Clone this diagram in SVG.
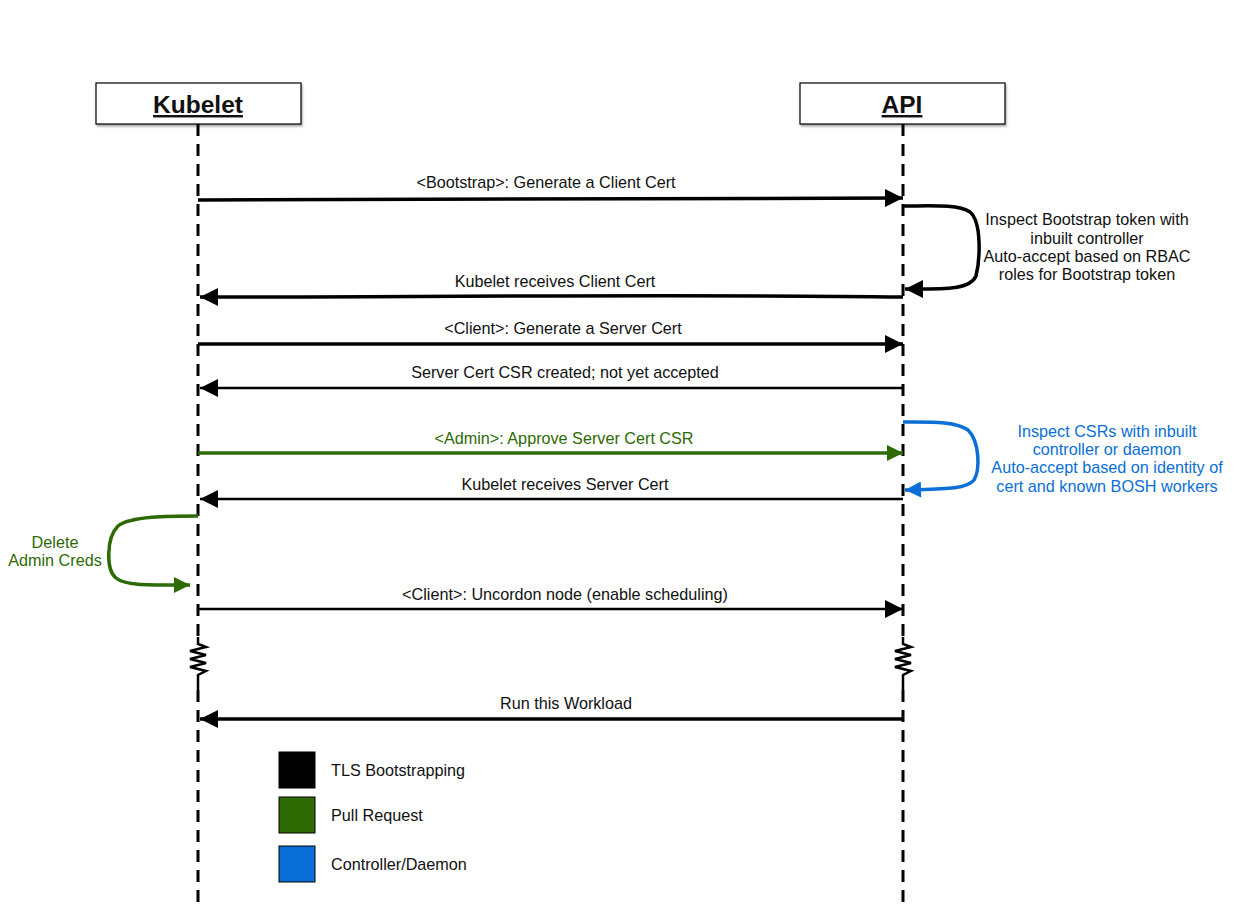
<svg xmlns="http://www.w3.org/2000/svg" width="1241" height="912" viewBox="0 0 1241 912">
<defs>
<style>
text{font-family:"Liberation Sans",Arial,sans-serif;font-size:16.2px;fill:#111}
.title{font-size:24.5px;font-weight:bold;text-decoration:underline}
.lbl{text-anchor:middle}
.g{fill:#2d6a04}
.b{fill:#0a6fd6}
.life{stroke:#000;stroke-width:3;stroke-dasharray:12 8;fill:none}
.box{fill:#fff;stroke:#000;stroke-width:1.2}
.m{fill:none;stroke-width:3.5;stroke-linecap:butt}
.thin{stroke-width:2.5}
</style>
<marker id="ak" viewBox="0 0 10 10" refX="10" refY="5" markerWidth="27" markerHeight="18" markerUnits="userSpaceOnUse" orient="auto"><path d="M0,0 L10,5 L0,10 z" fill="#000"/></marker>
<marker id="ag" viewBox="0 0 10 10" refX="10" refY="5" markerWidth="24" markerHeight="16" markerUnits="userSpaceOnUse" orient="auto"><path d="M0,0 L10,5 L0,10 z" fill="#2d6a04"/></marker>
<marker id="ab" viewBox="0 0 10 10" refX="10" refY="5" markerWidth="24" markerHeight="16" markerUnits="userSpaceOnUse" orient="auto"><path d="M0,0 L10,5 L0,10 z" fill="#0a6fd6"/></marker>
<filter id="sh" x="-10%" y="-10%" width="130%" height="140%"><feDropShadow dx="1" dy="2" stdDeviation="1.2" flood-opacity="0.35"/></filter>
</defs>
<rect width="1241" height="912" fill="#fff"/>
<g id="kubelet">
<path class="life" d="M198,124 V637 M198,690 V910"/>
<path d="M198,637 V644 L206,647 L190,651 L206,655 L190,659 L206,663 L190,667 L206,671 L198,675 V690" fill="none" stroke="#000" stroke-width="2.5"/>
<rect class="box" x="96" y="83" width="205" height="41" filter="url(#sh)"/>
<text class="title lbl" x="198" y="113">Kubelet</text>
</g>
<g id="api">
<path class="life" d="M903,124 V637 M903,690 V910"/>
<path d="M903,637 V644 L911,647 L895,651 L911,655 L895,659 L911,663 L895,667 L911,671 L903,675 V690" fill="none" stroke="#000" stroke-width="2.5"/>
<rect class="box" x="800" y="83" width="205" height="41" filter="url(#sh)"/>
<text class="title lbl" x="902" y="113">API</text>
</g>
<g id="connectors">
<path class="m" stroke="#000" d="M198,200 L903,198" marker-end="url(#ak)"/>
<text class="lbl" x="546" y="188">&lt;Bootstrap&gt;: Generate a Client Cert</text>
<path class="m" stroke="#000" d="M903,206 C930,206 958,204 970,212 C982,222 980,260 976,276 C970,290 945,289 905,289" marker-end="url(#ak)"/>
<path class="m" stroke="#000" d="M903,297 C700,294 400,297 200,297" marker-end="url(#ak)"/>
<text class="lbl" x="555" y="287">Kubelet receives Client Cert</text>
<path class="m" stroke="#000" d="M198,344 L903,344" marker-end="url(#ak)"/>
<text class="lbl" x="563" y="334">&lt;Client&gt;: Generate a Server Cert</text>
<path class="m thin" stroke="#000" d="M903,388 L200,388" marker-end="url(#ak)"/>
<text class="lbl" x="565" y="378">Server Cert CSR created; not yet accepted</text>
<path class="m" stroke="#2d6a04" d="M198,453 L903,453" marker-end="url(#ag)"/>
<text class="lbl g" x="564" y="444">&lt;Admin&gt;: Approve Server Cert CSR</text>
<path class="m" stroke="#0a6fd6" d="M903,422 C930,422 956,421 968,430 C980,442 980,470 974,480 C966,490 940,489 905,490" marker-end="url(#ab)"/>
<path class="m thin" stroke="#000" d="M903,499 L200,499" marker-end="url(#ak)"/>
<text class="lbl" x="565" y="490">Kubelet receives Server Cert</text>
<path class="m" stroke="#2d6a04" d="M198,516 C170,516 130,516 118,526 C106,538 106,570 116,578 C126,586 150,585 190,585" marker-end="url(#ag)"/>
<path class="m thin" stroke="#000" d="M198,609 L903,609" marker-end="url(#ak)"/>
<text class="lbl" x="565" y="600">&lt;Client&gt;: Uncordon node (enable scheduling)</text>
<path class="m" stroke="#000" d="M903,719 L200,719" marker-end="url(#ak)"/>
<text class="lbl" x="566" y="709">Run this Workload</text>
</g>
<g id="note-bootstrap">
<text class="lbl" x="1087" y="225">Inspect Bootstrap token with</text>
<text class="lbl" x="1087" y="244">inbuilt controller</text>
<text class="lbl" x="1087" y="262">Auto-accept based on RBAC</text>
<text class="lbl" x="1087" y="280">roles for Bootstrap token</text>
</g>
<g id="note-csr">
<text class="lbl b" x="1107" y="437">Inspect CSRs with inbuilt</text>
<text class="lbl b" x="1107" y="455">controller or daemon</text>
<text class="lbl b" x="1107" y="473">Auto-accept based on identity of</text>
<text class="lbl b" x="1107" y="492">cert and known BOSH workers</text>
</g>
<g id="note-delete">
<text class="lbl g" x="55" y="548">Delete</text>
<text class="lbl g" x="55" y="566">Admin Creds</text>
</g>
<g id="legend">
<rect x="279" y="752" width="36" height="36" fill="#000" stroke="#000"/>
<text x="331" y="776">TLS Bootstrapping</text>
<rect x="279" y="797" width="36" height="36" fill="#2d6a04" stroke="#000"/>
<text x="331" y="821">Pull Request</text>
<rect x="279" y="846" width="36" height="36" fill="#0a6fd6" stroke="#000"/>
<text x="331" y="870">Controller/Daemon</text>
</g>
</svg>
